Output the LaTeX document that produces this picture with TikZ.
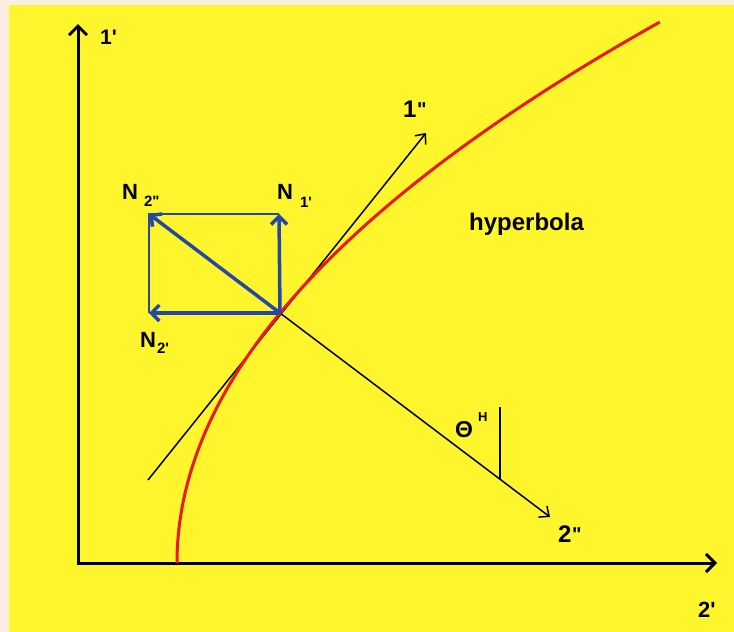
\documentclass[tikz,border=0pt]{standalone}
\usepackage{fontspec}
\setmainfont{Liberation Sans}
\usetikzlibrary{arrows.meta}
\definecolor{bgyellow}{RGB}{255,245,45}
\definecolor{edgepale}{RGB}{250,238,224}
\definecolor{vecblue}{RGB}{38,72,165}
\definecolor{hypred}{RGB}{235,25,20}
\newcommand\fsz[1]{\fontsize{#1}{#1}\selectfont\bfseries}
\newcommand\qs{\textquotesingle}
\newcommand\qd{\textquotedbl}
\newcommand\Nlab[3]{\fsz{22}N\hspace{#1}\raisebox{#2}{\fsz{15}#3}}
\begin{document}
\begin{tikzpicture}[x=1pt,y=-1pt,
  axisline/.style={line width=3pt,-{Straight Barb[length=9pt,width=18pt]}},
  thinarrow/.style={line width=1.5pt,-{Straight Barb[length=8pt,width=14pt]}},
  vecarrow/.style={line width=3.5pt,vecblue,-{Straight Barb[length=8pt,width=16pt]}},
  rectedge/.style={line width=1.5pt,vecblue},
  lbl/.style={inner sep=0pt,anchor=base west}]
\useasboundingbox (0,0) rectangle (734,632);
\fill[edgepale] (0,0) rectangle (734,632);
\fill[bgyellow] (9,5) rectangle (734,632);

% coordinates
\coordinate (orig) at (78,563);
\coordinate (ytip) at (78,24);
\coordinate (xtip) at (717,563);
\coordinate (O) at (280,313);
\coordinate (tanlow) at (148,480);
\coordinate (tanhigh) at (426,133);
\coordinate (normtip) at (550,517);
\coordinate (tickbot) at (500,479);
\coordinate (ticktop) at (500,407);
\coordinate (A) at (149,214);
\coordinate (B) at (279,214);
\coordinate (C) at (149,313);

% axes
\draw[axisline] ([yshift=1.5pt]orig) -- (ytip);
\draw[axisline] ([xshift=-1.5pt]orig) -- (xtip);

% tangent and normal
\draw[thinarrow] (tanlow) -- (tanhigh);
\draw[thinarrow] (O) -- (normtip);
\draw[line width=1.5pt] (tickbot) -- (ticktop);

% hyperbola
\draw[hypred,line width=3pt] plot[domain=0:5.41,samples=90,smooth] ({177+16.5*\x*\x},{563-100*\x});

% blue vectors
\draw[rectedge] (C) -- (A) -- (B);
\draw[vecarrow] (O) -- (A);
\draw[vecarrow] (O) -- (B);
\draw[vecarrow] (O) -- (C);

% labels
\node[lbl] (l1p) at (100,44) {\fsz{21}1\qs};
\node[lbl] (l2p) at (698,617) {\fsz{22}2\qs};
\node[lbl] (l1pp) at (403,117) {\fsz{24}1\hspace{0.5pt}\raisebox{1pt}{\fsz{20}\qd}};
\node[lbl] (l2pp) at (558,542) {\fsz{24}2\hspace{0.5pt}\raisebox{1pt}{\fsz{20}\qd}};
\node[lbl] (hyp) at (469,230) {\fsz{24}hyperbola};
\node[lbl] (theta) at (455,437) {\fsz{23}Θ\hspace{5pt}\raisebox{16pt}{\fsz{13}H}};
\node[lbl] (n2pp) at (122,199) {\Nlab{6pt}{-7pt}{2\qd}};
\node[lbl] (n1p) at (277,199) {\Nlab{7pt}{-8pt}{1\qs}};
\node[lbl] (n2p) at (140,347) {\Nlab{1pt}{-6pt}{2\qs}};
\end{tikzpicture}
\end{document}
